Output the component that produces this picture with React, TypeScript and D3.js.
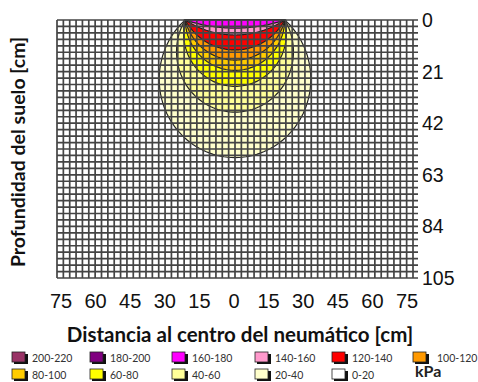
import React, { useEffect, useRef } from "react";
import * as d3 from "d3";

// pressure classes (kPa), legend order
const CLASSES = [
  "200-220", "180-200", "160-180", "140-160", "120-140", "100-120",
  "80-100", "60-80", "40-60", "20-40", "0-20",
];
const CLASS_COLORS = [
  "#993366", "#800080", "#FF00FF", "#FF99CC", "#FF0000", "#FF9900",
  "#FFCC00", "#FFFF00", "#FFFF99", "#FFFFCC", "#FFFFFF",
];

// isobar bulbs: depth (cm) reached under the tyre centre, outermost first
const BULB_CLASSES = [
  "20-40", "40-60", "60-80", "80-100", "100-120", "120-140", "140-160", "160-180",
];
const BULB_DEPTHS = [56, 37.5, 27, 20.5, 16.3, 12.2, 6.1, 3.3];
const CONTACT_HALF_WIDTH = 21; // cm

const X_TICKS = [-75, -60, -45, -30, -15, 0, 15, 30, 45, 60, 75];
const Y_TICKS = [0, 21, 42, 63, 84, 105];
const GRID_COLS = 56;
const GRID_ROWS = 40;

const W = 478;
const H = 382;

const bulbPoints = (depth: number, half: number): [number, number][] => {
  // circle passing through (-half,0), (half,0) and (0,depth)
  const c = (depth * depth - half * half) / (2 * depth);
  const r = depth - c;
  const t0 = Math.acos(Math.max(-1, Math.min(1, -c / r)));
  return d3.range(0, 101).map((i) => {
    const t = -t0 + (2 * t0 * i) / 100;
    return [r * Math.sin(t), c + r * Math.cos(t)];
  });
};

const App = () => {
  const ref = useRef<HTMLDivElement>(null);

  useEffect(() => {
    const svg = d3
      .select(ref.current)
      .html("")
      .append("svg")
      .attr("width", W)
      .attr("height", H)
      .style("display", "block");

    svg.append("rect").attr("width", W).attr("height", H).attr("fill", "white");

    const x = d3.scaleLinear().domain([-75, 75]).range([57, 413]);
    const y = d3.scaleLinear().domain([0, 105]).range([20, 278]);
    const xLabel = x.copy().range([61, 407]);

    const line = d3
      .line<[number, number]>()
      .x((d) => x(d[0]))
      .y((d) => y(d[1]))
      .curve(d3.curveLinearClosed);

    const color = d3.scaleOrdinal<string, string>().domain(CLASSES).range(CLASS_COLORS);

    // pressure bulbs
    BULB_CLASSES.forEach((cls, i) => {
      svg
        .append("path")
        .attr("d", line(bulbPoints(BULB_DEPTHS[i], CONTACT_HALF_WIDTH)))
        .attr("fill", color(cls))
        .attr("stroke", "#222")
        .attr("stroke-width", 1.2);
    });

    // grid on top
    const grid = svg.append("g").attr("stroke", "#444").attr("stroke-width", 1.7);
    d3.range(GRID_COLS + 1).forEach((i) => {
      const xv = x(-75 + (150 * i) / GRID_COLS);
      grid.append("line").attr("x1", xv).attr("x2", xv).attr("y1", y(0)).attr("y2", y(105));
    });
    d3.range(GRID_ROWS + 1).forEach((j) => {
      const yv = y((105 * j) / GRID_ROWS);
      grid.append("line").attr("x1", x(-75)).attr("x2", x(75) + 5).attr("y1", yv).attr("y2", yv);
    });

    // y tick labels (right side)
    svg
      .append("g")
      .selectAll("text")
      .data(Y_TICKS)
      .join("text")
      .attr("x", x(75) + 9)
      .attr("y", (d) => y(d))
      .attr("dy", "0.36em")
      .attr("font-family", "'Liberation Sans', Arial, sans-serif")
      .attr("font-size", 19.5)
      .attr("fill", "#111")
      .text((d) => d);

    // x tick labels
    svg
      .append("g")
      .selectAll("text")
      .data(X_TICKS)
      .join("text")
      .attr("x", (d) => xLabel(d))
      .attr("y", 308)
      .attr("text-anchor", "middle")
      .attr("font-family", "'Liberation Sans', Arial, sans-serif")
      .attr("font-size", 20)
      .attr("fill", "#111")
      .text((d) => Math.abs(d));

    svg
      .append("text")
      .attr("x", 240)
      .attr("y", 342)
      .attr("text-anchor", "middle")
      .attr("font-family", "Lato, sans-serif")
      .attr("font-weight", "bold")
      .attr("font-size", 20.5)
      .attr("fill", "#111")
      .text("Distancia al centro del neumático [cm]");

    svg
      .append("text")
      .attr("transform", `translate(25,${152}) rotate(-90)`)
      .attr("text-anchor", "middle")
      .attr("font-family", "Lato, sans-serif")
      .attr("font-weight", "bold")
      .attr("font-size", 19.5)
      .attr("fill", "#111")
      .text("Profundidad del suelo [cm]");

    // legend
    const COLS = 6;
    const colX = [12, 90, 172, 255, 332, 413];
    const legend = svg.append("g");
    CLASSES.forEach((cls, i) => {
      const row = Math.floor(i / COLS);
      const col = i % COLS;
      const lx = colX[col];
      const ly = 352 + row * 17;
      legend.append("rect")
        .attr("x", lx + 2).attr("y", ly + 2).attr("width", 14).attr("height", 10)
        .attr("fill", "#111");
      legend.append("rect")
        .attr("x", lx).attr("y", ly).attr("width", 13).attr("height", 10)
        .attr("fill", color(cls)).attr("stroke", "#222").attr("stroke-width", 0.8);
      legend.append("text")
        .attr("x", lx + (col === 5 ? 24 : 20)).attr("y", ly + 10)
        .attr("font-family", "Lato, sans-serif")
        .attr("font-size", 10.5)
        .attr("fill", "#333")
        .text(cls);
    });
    legend.append("text")
      .attr("x", 415).attr("y", 377)
      .attr("font-family", "Lato, sans-serif")
      .attr("font-weight", "bold")
      .attr("font-size", 16)
      .attr("fill", "#222")
      .text("kPa");
  }, []);

  return <div ref={ref} style={{ position: "absolute", left: 0, top: 0 }} />;
};

export default App;
